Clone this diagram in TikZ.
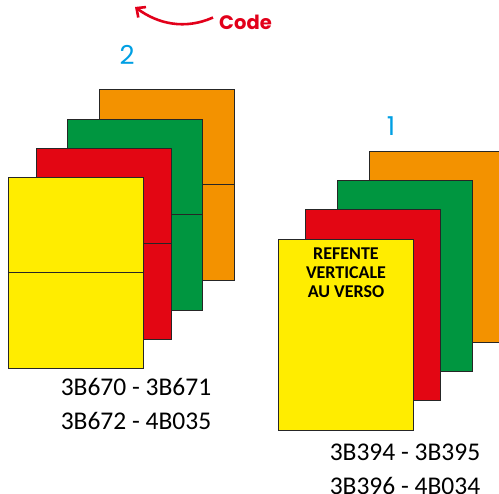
\documentclass[tikz,border=0pt]{standalone}
\usepackage{fontspec}
\setmainfont{Carlito}
\newfontfamily\popfont{Poppins}
\usetikzlibrary{arrows.meta,shadows}
\definecolor{sorange}{RGB}{243,146,0}
\definecolor{sgreen}{RGB}{0,150,64}
\definecolor{sred}{RGB}{227,6,19}
\definecolor{syellow}{RGB}{255,237,0}
\definecolor{numblue}{RGB}{0,159,227}
\definecolor{codered}{RGB}{226,0,26}
\tikzset{
  sheet/.style={rectangle,draw=black!85,line width=0.9pt,anchor=north west,
    minimum width=135pt,minimum height=191pt,inner sep=0pt,
    drop shadow={shadow xshift=0.8pt,shadow yshift=-0.8pt,opacity=0.45,fill=black!60}},
  fold/.style={draw=black!85,line width=0.9pt},
  numlbl/.style={inner sep=0pt,text=numblue,font=\popfont\fontsize{26}{28}\selectfont},
  codelbl/.style={inner sep=0pt,text=codered,font=\popfont\bfseries\fontsize{19.5}{22}\selectfont},
  codearr/.style={-{Straight Barb[length=7pt,width=13pt,line width=2.6pt]},line width=2.6pt,draw=codered},
  reflbl/.style={inner sep=0pt,anchor=north,align=center,font=\bfseries\fontsize{18}{19}\selectfont},
  reflist/.style={inner sep=0pt,anchor=north,align=center,font=\fontsize{25.5}{34.5}\selectfont}
}
\begin{document}
\begin{tikzpicture}[x=1pt,y=-1pt]
  \useasboundingbox (0,0) rectangle (499,494);
  % code arrow
  \node[codelbl] (code) at (245.5,22.5) {Code};
  \coordinate (codetip) at (135,7);
  \draw[codearr] ([shift={(-6,-5)}]code.west) .. controls (185,30) and (158,24) .. (codetip);
  % stack 2, folded sheets
  \foreach \c/\x/\y/\n in {sorange/99/89/o2, sgreen/67/119/g2, sred/36/148/r2, syellow/8/177/y2} {
    \node[sheet,fill=\c] (\n) at (\x,\y) {};
    \draw[fold] (\n.west) -- (\n.east);
  }
  \node[numlbl] (n2) at (127,55) {2};
  \node[reflist] (list2) at (136,378) {3B670 - 3B671\\3B672 - 4B035};
  % stack 1
  \foreach \c/\x/\y/\n in {sorange/369/151/o1, sgreen/337/180/g1, sred/305/209/r1, syellow/278/239/y1}
    \node[sheet,fill=\c] (\n) at (\x,\y) {};
  \node[reflbl] (note) at (346,247.5) {REFENTE\\VERTICALE\\AU VERSO};
  \node[numlbl] (n1) at (391,126.5) {1};
  \node[reflist] (list1) at (405,443.5) {3B394 - 3B395\\3B396 - 4B034};
\end{tikzpicture}
\end{document}
